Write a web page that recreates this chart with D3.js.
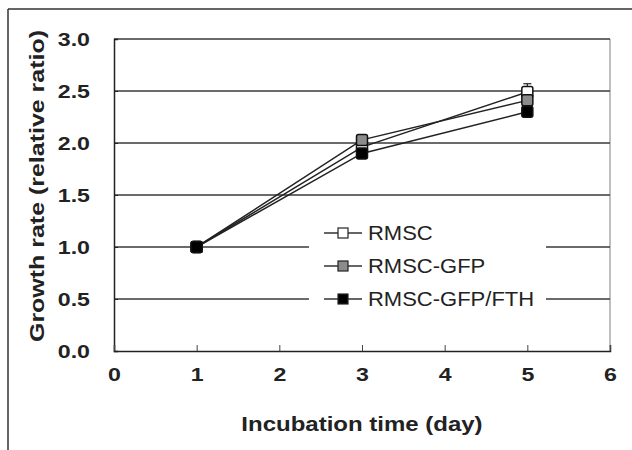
<!DOCTYPE html>
<html>
<head>
<meta charset="utf-8">
<script src="https://cdn.jsdelivr.net/npm/d3@7"></script>
<style>
  body { margin: 0; background: #fff; }
  text { font-family: "Liberation Sans", Arial, sans-serif; }
</style>
</head>
<body>
<div id="chart"></div>
<script>
// data
const days = [1, 3, 5];
const seriesNames = ["RMSC", "RMSC-GFP", "RMSC-GFP/FTH"];
const rmsc = [1.0, 1.96, 2.49];
const rmscGfp = [1.0, 2.03, 2.41];
const rmscGfpFth = [1.0, 1.90, 2.30];
const rmscErr = [0.02, 0.03, 0.08];
const rmscGfpErr = [0.02, 0.03, 0.04];
const rmscGfpFthErr = [0.02, 0.03, 0.04];
const xTicks = [0, 1, 2, 3, 4, 5, 6];
const yTicks = [0, 0.5, 1.0, 1.5, 2.0, 2.5, 3.0];

const WIDTH = 632;
const HEIGHT = 450;
const LEFT = 114, RIGHT = 610, TOP = 39, BOTTOM = 351;
const STRETCH = 1.22; // the original lettering is a bit wide

const fills = ["#ffffff", "#8c8c8c", "#000000"];
const allSeries = [rmsc, rmscGfp, rmscGfpFth];
const allErr = [rmscErr, rmscGfpErr, rmscGfpFthErr];

let svg = d3.select("#chart")
    .append("svg")
    .attr("width", WIDTH)
    .attr("height", HEIGHT);

// outer frame (only top and left edges show)
svg.append("line")
    .attr("x1", 8).attr("x2", WIDTH).attr("y1", 9).attr("y2", 9)
    .attr("stroke", "#333").attr("stroke-width", 1.5);
svg.append("line")
    .attr("x1", 8).attr("x2", 8).attr("y1", 9).attr("y2", HEIGHT)
    .attr("stroke", "#333").attr("stroke-width", 1.5);

let xScale = d3.scaleLinear().domain([0, 6]).range([LEFT, RIGHT]);
let yScale = d3.scaleLinear().domain([0, 3]).range([BOTTOM, TOP]);

// right border of plot
svg.append("line")
    .attr("x1", RIGHT).attr("x2", RIGHT).attr("y1", TOP).attr("y2", BOTTOM)
    .attr("stroke", "#aaa").attr("stroke-width", 1.5);

// horizontal gridlines
svg.append("g")
    .selectAll("line")
    .data(yTicks.filter(d => d > 0))
    .enter().append("line")
    .attr("x1", LEFT).attr("x2", RIGHT)
    .attr("y1", d => yScale(d)).attr("y2", d => yScale(d))
    .attr("stroke", "#3a3a3a").attr("stroke-width", 1.5);

// y axis
let yAxis = svg.append("g")
    .attr("transform", "translate(" + LEFT + ",0)")
    .call(d3.axisRight(yScale).tickValues(yTicks).tickSize(4).tickFormat(d3.format(".1f")));
yAxis.select(".domain").attr("stroke", "#222").attr("stroke-width", 1.5);
yAxis.selectAll(".tick line").attr("stroke", "#222");
yAxis.selectAll("text")
    .attr("x", -24 / STRETCH)
    .attr("transform", "scale(" + STRETCH + ",1)")
    .attr("text-anchor", "end")
    .attr("dy", "0.36em")
    .attr("font-size", 19)
    .attr("font-weight", "bold")
    .attr("fill", "#222");

// x axis
let xAxis = svg.append("g")
    .attr("transform", "translate(0," + BOTTOM + ")")
    .call(d3.axisTop(xScale).tickValues(xTicks).tickSize(6).tickFormat(d3.format("d")));
xAxis.select(".domain").attr("stroke", "#222").attr("stroke-width", 1.5);
xAxis.selectAll(".tick line").attr("stroke", "#444");
xAxis.selectAll("text")
    .attr("y", 30)
    .attr("dy", 0)
    .attr("transform", "scale(" + STRETCH + ",1)")
    .attr("font-size", 19)
    .attr("font-weight", "bold")
    .attr("fill", "#222");

// axis titles
svg.append("text")
    .attr("x", (LEFT + RIGHT) / 2 / 1.2)
    .attr("y", 431)
    .attr("transform", "scale(1.2,1)")
    .attr("text-anchor", "middle")
    .attr("font-size", 20)
    .attr("font-weight", "bold")
    .attr("fill", "#222")
    .text("Incubation time (day)");

svg.append("text")
    .attr("transform", "translate(44,186)rotate(-90)")
    .attr("text-anchor", "middle")
    .attr("font-size", 21)
    .attr("font-weight", "bold")
    .attr("textLength", 312)
    .attr("lengthAdjust", "spacingAndGlyphs")
    .attr("fill", "#222")
    .text("Growth rate (relative ratio)");

// legend background and entries
let legend = svg.append("g");
legend.append("rect")
    .attr("x", 309).attr("y", 215)
    .attr("width", 237).attr("height", 100)
    .attr("fill", "#fff");

let line = d3.line()
    .x((d, i) => xScale(days[i]))
    .y(d => yScale(d));

allSeries.forEach((vals, s) => {
    let g = svg.append("g");
    g.append("path")
        .datum(vals)
        .attr("d", line)
        .attr("fill", "none")
        .attr("stroke", "#222")
        .attr("stroke-width", 1.5);
    // error bars
    g.selectAll(".err")
        .data(vals)
        .enter().append("g")
        .each(function (d, i) {
            let e = allErr[s][i];
            let x = xScale(days[i]);
            let sel = d3.select(this);
            sel.append("line")
                .attr("x1", x).attr("x2", x)
                .attr("y1", yScale(d + e)).attr("y2", yScale(d - e))
                .attr("stroke", "#222").attr("stroke-width", 1.2);
            sel.append("line")
                .attr("x1", x - 4).attr("x2", x + 4)
                .attr("y1", yScale(d + e)).attr("y2", yScale(d + e))
                .attr("stroke", "#222").attr("stroke-width", 1.2);
        });
    g.selectAll("rect")
        .data(vals)
        .enter().append("rect")
        .attr("x", (d, i) => xScale(days[i]) - 5.5)
        .attr("y", d => yScale(d) - 5.5)
        .attr("width", 11).attr("height", 11)
        .attr("rx", 2)
        .attr("fill", fills[s])
        .attr("stroke", "#111")
        .attr("stroke-width", 1.5);
});

seriesNames.forEach((name, s) => {
    let y = 233 + s * 33;
    legend.append("line")
        .attr("x1", 324).attr("x2", 362)
        .attr("y1", y).attr("y2", y)
        .attr("stroke", "#333").attr("stroke-width", 1.5);
    legend.append("rect")
        .attr("x", 338).attr("y", y - 5)
        .attr("width", 10).attr("height", 10)
        .attr("fill", fills[s])
        .attr("stroke", "#222").attr("stroke-width", 1.2);
    legend.append("text")
        .attr("x", 368 / 1.1).attr("y", y)
        .attr("transform", "scale(1.1,1)")
        .attr("dy", "0.36em")
        .attr("font-size", 20)
        .attr("fill", "#222")
        .text(name);
});
</script>
</body>
</html>
